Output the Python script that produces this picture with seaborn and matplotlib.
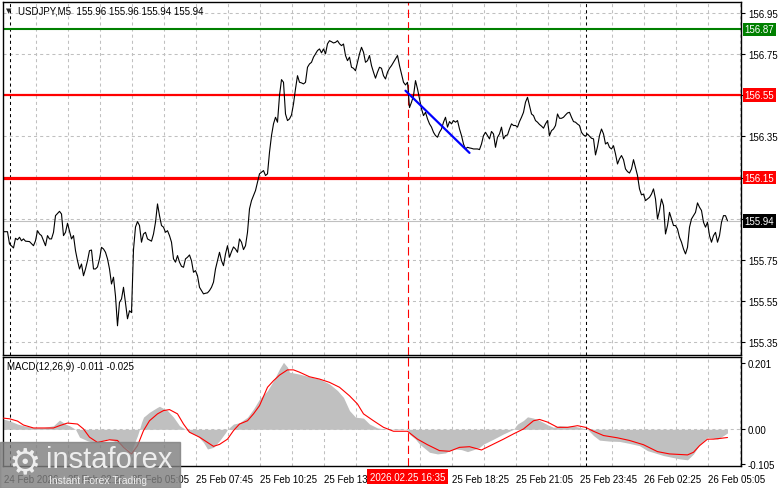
import matplotlib
matplotlib.use("Agg")
import matplotlib.pyplot as plt
from matplotlib.patches import Rectangle
import seaborn as sns

sns.set_style("white")
plt.rcParams['font.family'] = ['Liberation Sans', 'DejaVu Sans']
plt.rcParams['font.size'] = 7
plt.rcParams['lines.scale_dashes'] = False

# ---- data: USDJPY M5 closes (bar 0 = 24 Feb 23:45) ----
bars = [0, 2, 3, 5, 6, 7, 8, 9, 10, 11, 13, 15, 16, 17, 18, 19, 21, 22, 23, 24,
        25, 26, 28, 29, 30, 31, 32, 34, 35, 36, 37, 38, 39, 40, 41, 42, 43, 44, 45, 46,
        47, 48, 49, 50, 51, 52, 53, 54, 55, 56, 57, 58, 59, 60, 61, 62, 63, 64, 65, 66,
        67, 68, 69, 70, 71, 72, 74, 75, 76, 77, 78, 79, 80, 81, 82, 83, 84, 85, 86, 87,
        88, 89, 90, 91, 92, 93, 94, 95, 96, 97, 98, 99, 100, 101, 102, 103, 104, 105, 106, 107,
        108, 109, 110, 111, 112, 113, 114, 115, 116, 117, 118, 119, 120, 121, 122, 123, 124, 125, 126, 127,
        128, 129, 130, 131, 132, 133, 134, 135, 136, 137, 138, 139, 140, 141, 142, 143, 144, 145, 146, 147,
        148, 149, 150, 151, 152, 153, 154, 155, 156, 157, 158, 159, 160, 161, 162, 163, 164, 165, 166, 167,
        168, 169, 170, 171, 172, 173, 174, 175, 176, 177, 178, 179, 180, 181, 182, 183, 184, 185, 186, 187,
        188, 189, 190, 191, 192, 193, 194, 195, 196, 197, 198, 199, 200, 201, 202, 203, 204, 205, 206, 207,
        208, 209, 210, 211, 212, 213, 214, 215, 216, 217, 218, 219, 220, 221, 222, 223, 224, 225, 226, 227,
        228, 229, 230, 231, 232, 233, 234, 235, 236, 237, 238, 239, 240, 241, 242, 243, 244, 245, 246, 247,
        248, 249, 250, 251, 252, 253, 254, 255, 256, 257, 258, 259, 260, 261, 262, 263, 264, 265, 266, 267,
        268, 269, 270, 271, 272, 273, 274, 275, 276, 277, 278, 279, 280, 281, 282, 283, 284, 285, 286, 287,
        288, 289, 290, 291, 292, 293, 294, 295, 296, 297, 298, 299, 300, 301, 302, 303, 304, 305, 306, 307,
        308, 309, 310, 311, 312, 313, 314, 315, 316, 317, 318, 319, 320, 321, 322, 323, 324, 325, 326, 327,
        328, 329, 330, 331, 332, 333, 334, 335, 336, 337, 338, 339, 340, 341, 342, 343, 344, 345, 346, 347,
        348, 349, 350, 351, 352, 353, 354, 355, 356, 357, 358, 359, 360, 361, 362]
closes = [155.887, 155.887, 155.828, 155.808, 155.855, 155.848, 155.860, 155.843, 155.852, 155.841,
          155.839, 155.819, 155.843, 155.892, 155.876, 155.868, 155.819, 155.868, 155.852, 155.852,
          155.884, 155.965, 155.986, 155.973, 155.868, 155.884, 155.928, 155.852, 155.868, 155.795,
          155.746, 155.706, 155.730, 155.673, 155.706, 155.746, 155.795, 155.798, 155.706, 155.706,
          155.716, 155.755, 155.811, 155.803, 155.787, 155.755, 155.706, 155.633, 155.666, 155.574,
          155.430, 155.544, 155.560, 155.617, 155.540, 155.464, 155.503, 155.494, 155.800, 155.910,
          155.936, 155.917, 155.836, 155.876, 155.884, 155.852, 155.841, 155.876, 155.933, 156.022,
          155.965, 155.917, 155.909, 155.884, 155.892, 155.868, 155.836, 155.755, 155.739, 155.771,
          155.739, 155.719, 155.714, 155.755, 155.763, 155.774, 155.746, 155.690, 155.698, 155.673,
          155.617, 155.601, 155.585, 155.588, 155.590, 155.601, 155.617, 155.642, 155.706, 155.746,
          155.787, 155.746, 155.722, 155.779, 155.819, 155.763, 155.790, 155.813, 155.803, 155.787,
          155.852, 155.836, 155.800, 155.819, 155.884, 155.998, 156.038, 156.062, 156.087, 156.127,
          156.168, 156.176, 156.184, 156.160, 156.168, 156.273, 156.354, 156.411, 156.443, 156.419,
          156.548, 156.626, 156.613, 156.459, 156.427, 156.435, 156.454, 156.508, 156.581, 156.645,
          156.613, 156.610, 156.605, 156.613, 156.686, 156.702, 156.710, 156.735, 156.751, 156.767,
          156.775, 156.756, 156.775, 156.751, 156.800, 156.815, 156.810, 156.804, 156.807, 156.815,
          156.800, 156.791, 156.799, 156.743, 156.718, 156.735, 156.686, 156.681, 156.669, 156.710,
          156.751, 156.783, 156.759, 156.710, 156.718, 156.743, 156.694, 156.662, 156.633, 156.662,
          156.686, 156.681, 156.645, 156.629, 156.662, 156.681, 156.694, 156.710, 156.726, 156.743,
          156.694, 156.654, 156.613, 156.600, 156.613, 156.490, 156.516, 156.548, 156.621, 156.581,
          156.532, 156.484, 156.451, 156.467, 156.435, 156.411, 156.395, 156.370, 156.354, 156.346,
          156.370, 156.386, 156.419, 156.443, 156.395, 156.422, 156.411, 156.427, 156.419, 156.427,
          156.386, 156.354, 156.313, 156.289, 156.297, 156.294, 156.292, 156.289, 156.289, 156.289,
          156.286, 156.313, 156.354, 156.370, 156.354, 156.338, 156.374, 156.362, 156.297, 156.346,
          156.362, 156.395, 156.338, 156.354, 156.357, 156.386, 156.411, 156.403, 156.403, 156.395,
          156.422, 156.443, 156.467, 156.516, 156.540, 156.500, 156.459, 156.451, 156.427, 156.419,
          156.408, 156.400, 156.390, 156.411, 156.427, 156.354, 156.378, 156.386, 156.403, 156.459,
          156.438, 156.438, 156.443, 156.454, 156.464, 156.467, 156.443, 156.422, 156.419, 156.410,
          156.403, 156.370, 156.357, 156.351, 156.362, 156.351, 156.341, 156.338, 156.260, 156.300,
          156.354, 156.386, 156.362, 156.313, 156.321, 156.297, 156.289, 156.305, 156.265, 156.216,
          156.241, 156.257, 156.237, 156.192, 156.179, 156.172, 156.192, 156.237, 156.199, 156.160,
          156.095, 156.066, 156.070, 156.038, 156.046, 156.054, 156.070, 156.095, 156.046, 155.949,
          155.990, 156.046, 156.014, 155.876, 155.917, 155.981, 155.949, 155.917, 155.917, 155.900,
          155.860, 155.836, 155.803, 155.779, 155.811, 155.909, 155.949, 155.965, 155.981, 156.027,
          156.006, 155.990, 155.933, 155.909, 155.933, 155.868, 155.836, 155.868, 155.884, 155.836,
          155.868, 155.933, 155.965, 155.965, 155.940]

# MACD histogram (main line) and signal
hist_bar = [0, 3, 7, 10, 15, 20, 25, 28, 31, 33, 36, 38, 42, 45, 48, 52, 55, 58, 62, 64,
            65, 67, 68, 69, 70, 73, 77, 78, 82, 85, 88, 91, 93, 97, 100, 102, 105, 108, 111, 112,
            115, 118, 122, 125, 128, 132, 135, 138, 140, 142, 143, 148, 153, 158, 163, 167, 170, 173, 176, 180,
            183, 187, 192, 197, 202, 203, 206, 208, 211, 213, 217, 221, 223, 226, 229, 232, 236, 238, 240, 245,
            250, 255, 257, 260, 262, 265, 268, 272, 275, 278, 282, 285, 288, 292, 295, 298, 303, 308, 313, 318,
            322, 330, 338, 342, 345, 348, 352, 357, 360, 362]
hist_val = [0.031, 0.026, 0.016, 0.011, 0.005, 0.005, 0.011, 0.028, 0.016, 0.011, 0.0, -0.024, -0.035, -0.040, -0.037, -0.030, -0.035, -0.045, -0.060, -0.070,
            -0.050, -0.019, 0.0, 0.021, 0.037, 0.052, 0.067, 0.070, 0.057, 0.037, 0.011, 0.0, -0.009, -0.020, -0.040, -0.060, -0.055, -0.035, -0.010, 0.0,
            0.016, 0.020, 0.037, 0.062, 0.092, 0.118, 0.148, 0.184, 0.204, 0.189, 0.174, 0.168, 0.160, 0.153, 0.138, 0.118, 0.097, 0.057, 0.037, 0.034,
            0.016, 0.004, 0.0, 0.002, 0.0, -0.015, -0.030, -0.045, -0.060, -0.070, -0.075, -0.072, -0.065, -0.060, -0.062, -0.068, -0.060, -0.055, -0.045, -0.030,
            -0.014, 0.0, 0.016, 0.027, 0.038, 0.034, 0.027, 0.014, 0.006, 0.011, 0.009, 0.010, 0.006, 0.0, -0.019, -0.033, -0.036, -0.037, -0.043, -0.050,
            -0.065, -0.080, -0.090, -0.093, -0.075, -0.047, -0.024, -0.030, -0.019, -0.011]
sig_bar = [0, 3, 7, 10, 15, 20, 25, 28, 32, 37, 40, 43, 47, 50, 53, 57, 60, 63, 64, 67,
           70, 73, 77, 80, 83, 87, 90, 93, 98, 102, 105, 108, 112, 115, 118, 122, 125, 128, 132, 135,
           138, 142, 145, 148, 153, 158, 163, 168, 173, 177, 180, 185, 190, 195, 202, 207, 212, 218, 223, 228,
           233, 239, 245, 250, 255, 260, 265, 268, 272, 277, 282, 287, 291, 295, 300, 307, 313, 320, 327, 333,
           342, 345, 348, 352, 355, 358, 362]
sig_val = [0.034, 0.032, 0.025, 0.013, 0.004, 0.004, 0.004, 0.011, 0.019, 0.016, 0.001, -0.024, -0.040, -0.036, -0.032, -0.034, -0.055, -0.070, -0.075, -0.050,
           -0.004, 0.026, 0.047, 0.057, 0.060, 0.047, 0.016, -0.009, -0.024, -0.040, -0.052, -0.046, -0.030, -0.004, 0.016, 0.026, 0.047, 0.072, 0.128, 0.148,
           0.165, 0.181, 0.181, 0.174, 0.160, 0.153, 0.143, 0.128, 0.102, 0.077, 0.047, 0.026, 0.006, -0.006, -0.006, -0.030, -0.047, -0.065, -0.067, -0.055,
           -0.053, -0.063, -0.045, -0.030, -0.014, 0.001, 0.026, 0.030, 0.022, 0.006, 0.006, 0.011, 0.006, -0.006, -0.019, -0.026, -0.034, -0.047, -0.068, -0.075,
           -0.078, -0.070, -0.050, -0.030, -0.030, -0.028, -0.025]

# levels, trend segment, time axis
levels = [156.87, 156.55, 156.15]
level_colors = ['#008000', '#ff0000', '#ff0000']
level_widths = [1.5, 1.6, 2.3]
last_price = 155.94
trend_bars = [201, 233]
trend_prices = [156.572, 156.27]
price_ticks = [155.35, 155.55, 155.75, 155.95, 156.15, 156.35, 156.55, 156.75, 156.95]
price_tick_labels = ['155.35', '155.55', '155.75', '', '', '156.35', '', '156.75', '156.95']
macd_ticks = [0.201, 0.0, -0.105]
macd_tick_labels = ['0.201', '0.00', '-0.105']
time_ticks = [0, 32, 64, 96, 128, 160, 192, 224, 256, 288, 320, 352]
time_labels = ['24 Feb 2026', '25 Feb 02:25', '25 Feb 05:05', '25 Feb 07:45', '25 Feb 10:25',
               '25 Feb 13:05', '', '25 Feb 18:25', '25 Feb 21:05', '25 Feb 23:45',
               '26 Feb 02:25', '26 Feb 05:05']
day_breaks = [3, 291]
cursor_bar = 202
cursor_label = '2026.02.25 16:35'

W, H = 781, 489
fig = plt.figure(figsize=(W / 100, H / 100), dpi=100)


def box(l, t, r, b):
    return [l / W, 1 - b / H, (r - l) / W, (b - t) / H]


ax = fig.add_axes(box(3, 3, 741, 356))
axm = fig.add_axes(box(3, 358, 741, 467))
grid_kw = dict(color='#c0c0c0', lw=0.75, ls=(0, (2.2, 2.2)), zorder=0)

for a in (ax, axm):
    a.set_xlim(-0.25, 368.75)
    for b in range(16, 369, 16):
        a.axvline(b, **grid_kw)
    for b in day_breaks:
        a.axvline(b, color='black', lw=0.75, ls=(0, (2.2, 2.2)), zorder=1)
    for s in a.spines.values():
        s.set_color('black')
        s.set_linewidth(1)
    a.yaxis.tick_right()
    a.tick_params(axis='y', direction='out', length=3, width=0.8, pad=2, labelsize=7, colors='black')

# main price panel
ax.set_ylim(155.288, 157.003)
for p in price_ticks:
    ax.axhline(p, **grid_kw)
ax.axhline(last_price, color='#c0c0c0', lw=0.8, zorder=1)
ax.axvline(cursor_bar, color='#ff0000', lw=0.8, ls=(0, (6, 3)), zorder=1)
sns.lineplot(x=bars, y=closes, ax=ax, color='black', linewidth=0.8, zorder=3)
for lv, c, w in zip(levels, level_colors, level_widths):
    ax.axhline(lv, color=c, lw=w, zorder=2)
sns.lineplot(x=trend_bars, y=trend_prices, ax=ax, color='#0000ff', linewidth=1.6, zorder=4)
ax.set_yticks(price_ticks)
ax.set_yticklabels(price_tick_labels)
ax.set_xticks([])
ax.set_xlabel('')
ax.set_ylabel('')
ytr = ax.get_yaxis_transform()
for lv, c in zip(levels + [last_price], level_colors + ['#000000']):
    ax.text(1.005, lv, f'{lv:.2f}', transform=ytr, color='white', fontsize=7, va='center', ha='left',
            bbox=dict(boxstyle='square,pad=0.18', fc=c, ec='none'), clip_on=False, zorder=10)

# MACD panel
axm.set_ylim(-0.1118, 0.2202)
axm.axhline(0, **grid_kw)
axm.axvline(cursor_bar, color='#ff0000', lw=0.8, ls=(0, (6, 3)), zorder=1)
axm.fill_between(hist_bar, hist_val, 0, color='#c0c0c0', lw=0, zorder=2)
sns.lineplot(x=sig_bar, y=sig_val, ax=axm, color='#ff0000', linewidth=0.8, zorder=3)
axm.set_yticks(macd_ticks)
axm.set_yticklabels(macd_tick_labels)
axm.set_xticks(time_ticks)
axm.set_xticklabels(time_labels, ha='left')
axm.tick_params(axis='x', direction='out', length=4, width=0.8, pad=2, labelsize=7, colors='black')
axm.set_xlabel('')
axm.set_ylabel('')
axm.text(cursor_bar, -0.1, cursor_label, transform=axm.get_xaxis_transform(), color='white',
         fontsize=7, ha='center', va='center', clip_on=False, zorder=10,
         bbox=dict(boxstyle='square,pad=0.25', fc='#ff0000', ec='none'))

# header texts
fig.text(6 / W, 1 - 11 / H, '\u25bc', fontsize=5, va='center', family=['DejaVu Sans'])
fig.text(18 / W, 1 - 11 / H, 'USDJPY,M5  155.96 155.96 155.94 155.94', fontsize=7, va='center', color='black')
fig.text(7 / W, 1 - 367 / H, 'MACD(12,26,9) -0.011 -0.025', fontsize=7, va='center', color='black')

# watermark
fig.patches.append(Rectangle((0, 0), 180 / W, 46 / H, transform=fig.transFigure,
                             color='#808080', alpha=0.82, zorder=20))
fig.text(25 / W, 1 - 463 / H, '\u2699', fontsize=26, color='#eeeeee', ha='center', va='center',
         family=['DejaVu Sans'], zorder=21)
fig.text(46 / W, 1 - 460 / H, 'instaforex', fontsize=21, color='#eeeeee', ha='left', va='center', zorder=21)
fig.text(49 / W, 1 - 481 / H, 'Instant Forex Trading', fontsize=7.5, color='#eeeeee', ha='left', va='center', zorder=21)

fig.savefig('out.png', dpi=100)
